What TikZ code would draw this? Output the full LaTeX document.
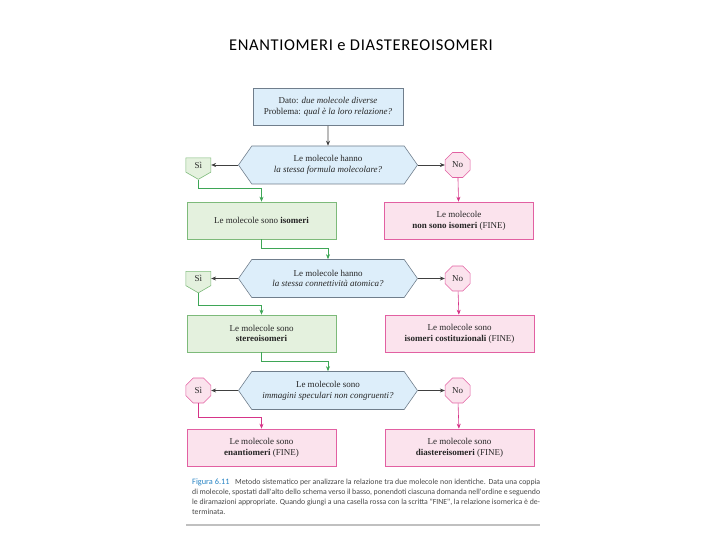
\documentclass[tikz,border=0pt]{standalone}
\usepackage{fontspec}
\setmainfont{Liberation Serif}
\newfontfamily\capfont{Carlito}
\usetikzlibrary{arrows.meta,positioning,calc,shapes.geometric,shapes.symbols}
\definecolor{askfill}{RGB}{221,238,250}
\definecolor{askedge}{RGB}{112,126,140}
\definecolor{okfill} {RGB}{228,241,222}
\definecolor{okedge} {RGB}{125,186,122}
\definecolor{okline} {RGB}{ 62,166, 86}
\definecolor{endfill}{RGB}{251,227,237}
\definecolor{endedge}{RGB}{226, 96,162}
\definecolor{endline}{RGB}{214, 52,136}
\definecolor{figblue}{RGB}{ 40,132,196}
\definecolor{rulegray}{RGB}{192,192,192}

\begin{document}
\begin{tikzpicture}[
  x=1pt, y=-1pt,
  font=\fontsize{9}{10.7}\selectfont,
  >={Stealth[length=5pt,width=4pt]},
  every node/.style={align=center, text=black!85},
  startbox/.style={
      rectangle, draw=askedge, line width=0.6pt, fill=askfill,
      minimum width=150pt, minimum height=37pt, inner sep=2pt
  },
  question/.style={
      signal, signal to=west and east, signal pointer angle=110,
      draw=askedge, line width=0.6pt, fill=askfill,
      minimum width=179pt, minimum height=38pt, inner sep=2pt
  },
  okbox/.style={
      rectangle, draw=okedge, line width=0.6pt, fill=okfill,
      minimum width=149pt, minimum height=37pt, inner sep=2pt
  },
  endbox/.style={
      rectangle, draw=endedge, line width=0.6pt, fill=endfill,
      minimum width=149pt, minimum height=37pt, inner sep=2pt
  },
  yestag/.style={
      signal, signal to=south, signal pointer angle=120,
      draw=okedge, line width=0.6pt, fill=okfill,
      minimum width=25pt, minimum height=17pt, inner sep=1pt
  },
  stopoct/.style={
      regular polygon, regular polygon sides=8,
      draw=endedge, line width=0.6pt, fill=endfill,
      minimum size=27pt, inner sep=0pt
  },
  arr/.style={->, draw=black!75, line width=0.6pt},
  garr/.style={->, draw=okline, line width=0.6pt},
  parr/.style={->, draw=endline, line width=0.6pt}
]
\useasboundingbox (0,0) rectangle (720,540);

% title
\node[font=\capfont\fontsize{16.5}{18}\selectfont\addfontfeature{LetterSpace=4},
      text=black] (title) at (361,45)
     {ENANTIOMERI e DIASTEREOISOMERI};

% ---------------------------------------------------------
% step 1: same molecular formula?
% ---------------------------------------------------------
\node[startbox] (start) at (328,107)
     {Dato: \textit{due molecole diverse}\\Problema: \textit{qual è la loro relazione?}};
\node[question] (q1) at (328,165)
     {Le molecole hanno\\\textit{la stessa formula molecolare?}};
\node[yestag,  left=27pt of q1]  (si1) {Sì};
\node[stopoct, right=27pt of q1] (no1) {No};
\node[okbox]  (g1) at (261.5,220.5) {Le molecole sono \textbf{isomeri}};
\node[endbox] (p1) at (459,220.5)   {Le molecole\\\textbf{non sono isomeri} (FINE)};

\draw[arr]  (start) -- (q1);
\draw[arr]  (q1.west) -- (si1.east);
\draw[arr]  (q1.east) -- (no1.west);
\draw[garr] (si1.south) -- ++(0,9) -| (g1.north);
\draw[parr] (no1) -- (p1);

% ---------------------------------------------------------
% step 2: same connectivity?
% ---------------------------------------------------------
\node[question] (q2) at (328,278.5)
     {Le molecole hanno\\\textit{la stessa connettività atomica?}};
\node[yestag,  left=27pt of q2]  (si2) {Sì};
\node[stopoct, right=27pt of q2] (no2) {No};
\node[okbox]  (g2) at (261.5,333.5) {Le molecole sono\\\textbf{stereoisomeri}};
\node[endbox] (p2) at (459.5,333.5) {Le molecole sono\\\textbf{isomeri costituzionali} (FINE)};

\draw[garr] (g1.south) -- ++(0,9) -| (q2.north);
\draw[arr]  (q2.west) -- (si2.east);
\draw[arr]  (q2.east) -- (no2.west);
\draw[garr] (si2.south) -- ++(0,12) -| (g2.north);
\draw[parr] (no2) -- (p2);

% ---------------------------------------------------------
% step 3: non-superimposable mirror images?
% ---------------------------------------------------------
\node[question] (q3) at (328,390.5)
     {Le molecole sono\\\textit{immagini speculari non congruenti?}};
\node[stopoct, left=27pt of q3]  (si3) {Sì};
\node[stopoct, right=27pt of q3] (no3) {No};
\node[endbox] (p3) at (261.5,447.5) {Le molecole sono\\\textbf{enantiomeri} (FINE)};
\node[endbox] (p4) at (459.5,447.5) {Le molecole sono\\\textbf{diastereisomeri} (FINE)};

\draw[garr] (g2.south) -- ++(0,9) -| (q3.north);
\draw[arr]  (q3.west) -- (si3.east);
\draw[arr]  (q3.east) -- (no3.west);
\draw[parr] (si3.south) -- ++(0,14) -| (p3.north);
\draw[parr] (no3) -- (p4);

% caption + rule
\node[anchor=north west, text width=348pt, align=justify, inner sep=0pt,
      font=\capfont\fontsize{7.8}{10}\selectfont, text=black!72] (cap) at (192,478.5)
     {{\color{figblue}\fontsize{8.3}{10}\selectfont Figura 6.11}\hspace{0.7em}Metodo sistematico per analizzare la relazione tra due molecole non identiche. Data una coppia\linebreak
      di molecole, spostati dall'alto dello schema verso il basso, ponendoti ciascuna domanda nell'ordine e seguendo\linebreak
      le diramazioni appropriate. Quando giungi a una casella rossa con la scritta "FINE", la relazione isomerica è de-\linebreak
      terminata.};
\coordinate (rulel) at (186,525);
\coordinate (ruler) at (540,525);
\draw[rulegray, line width=1.2pt] (rulel) -- (ruler);

\end{tikzpicture}
\end{document}
